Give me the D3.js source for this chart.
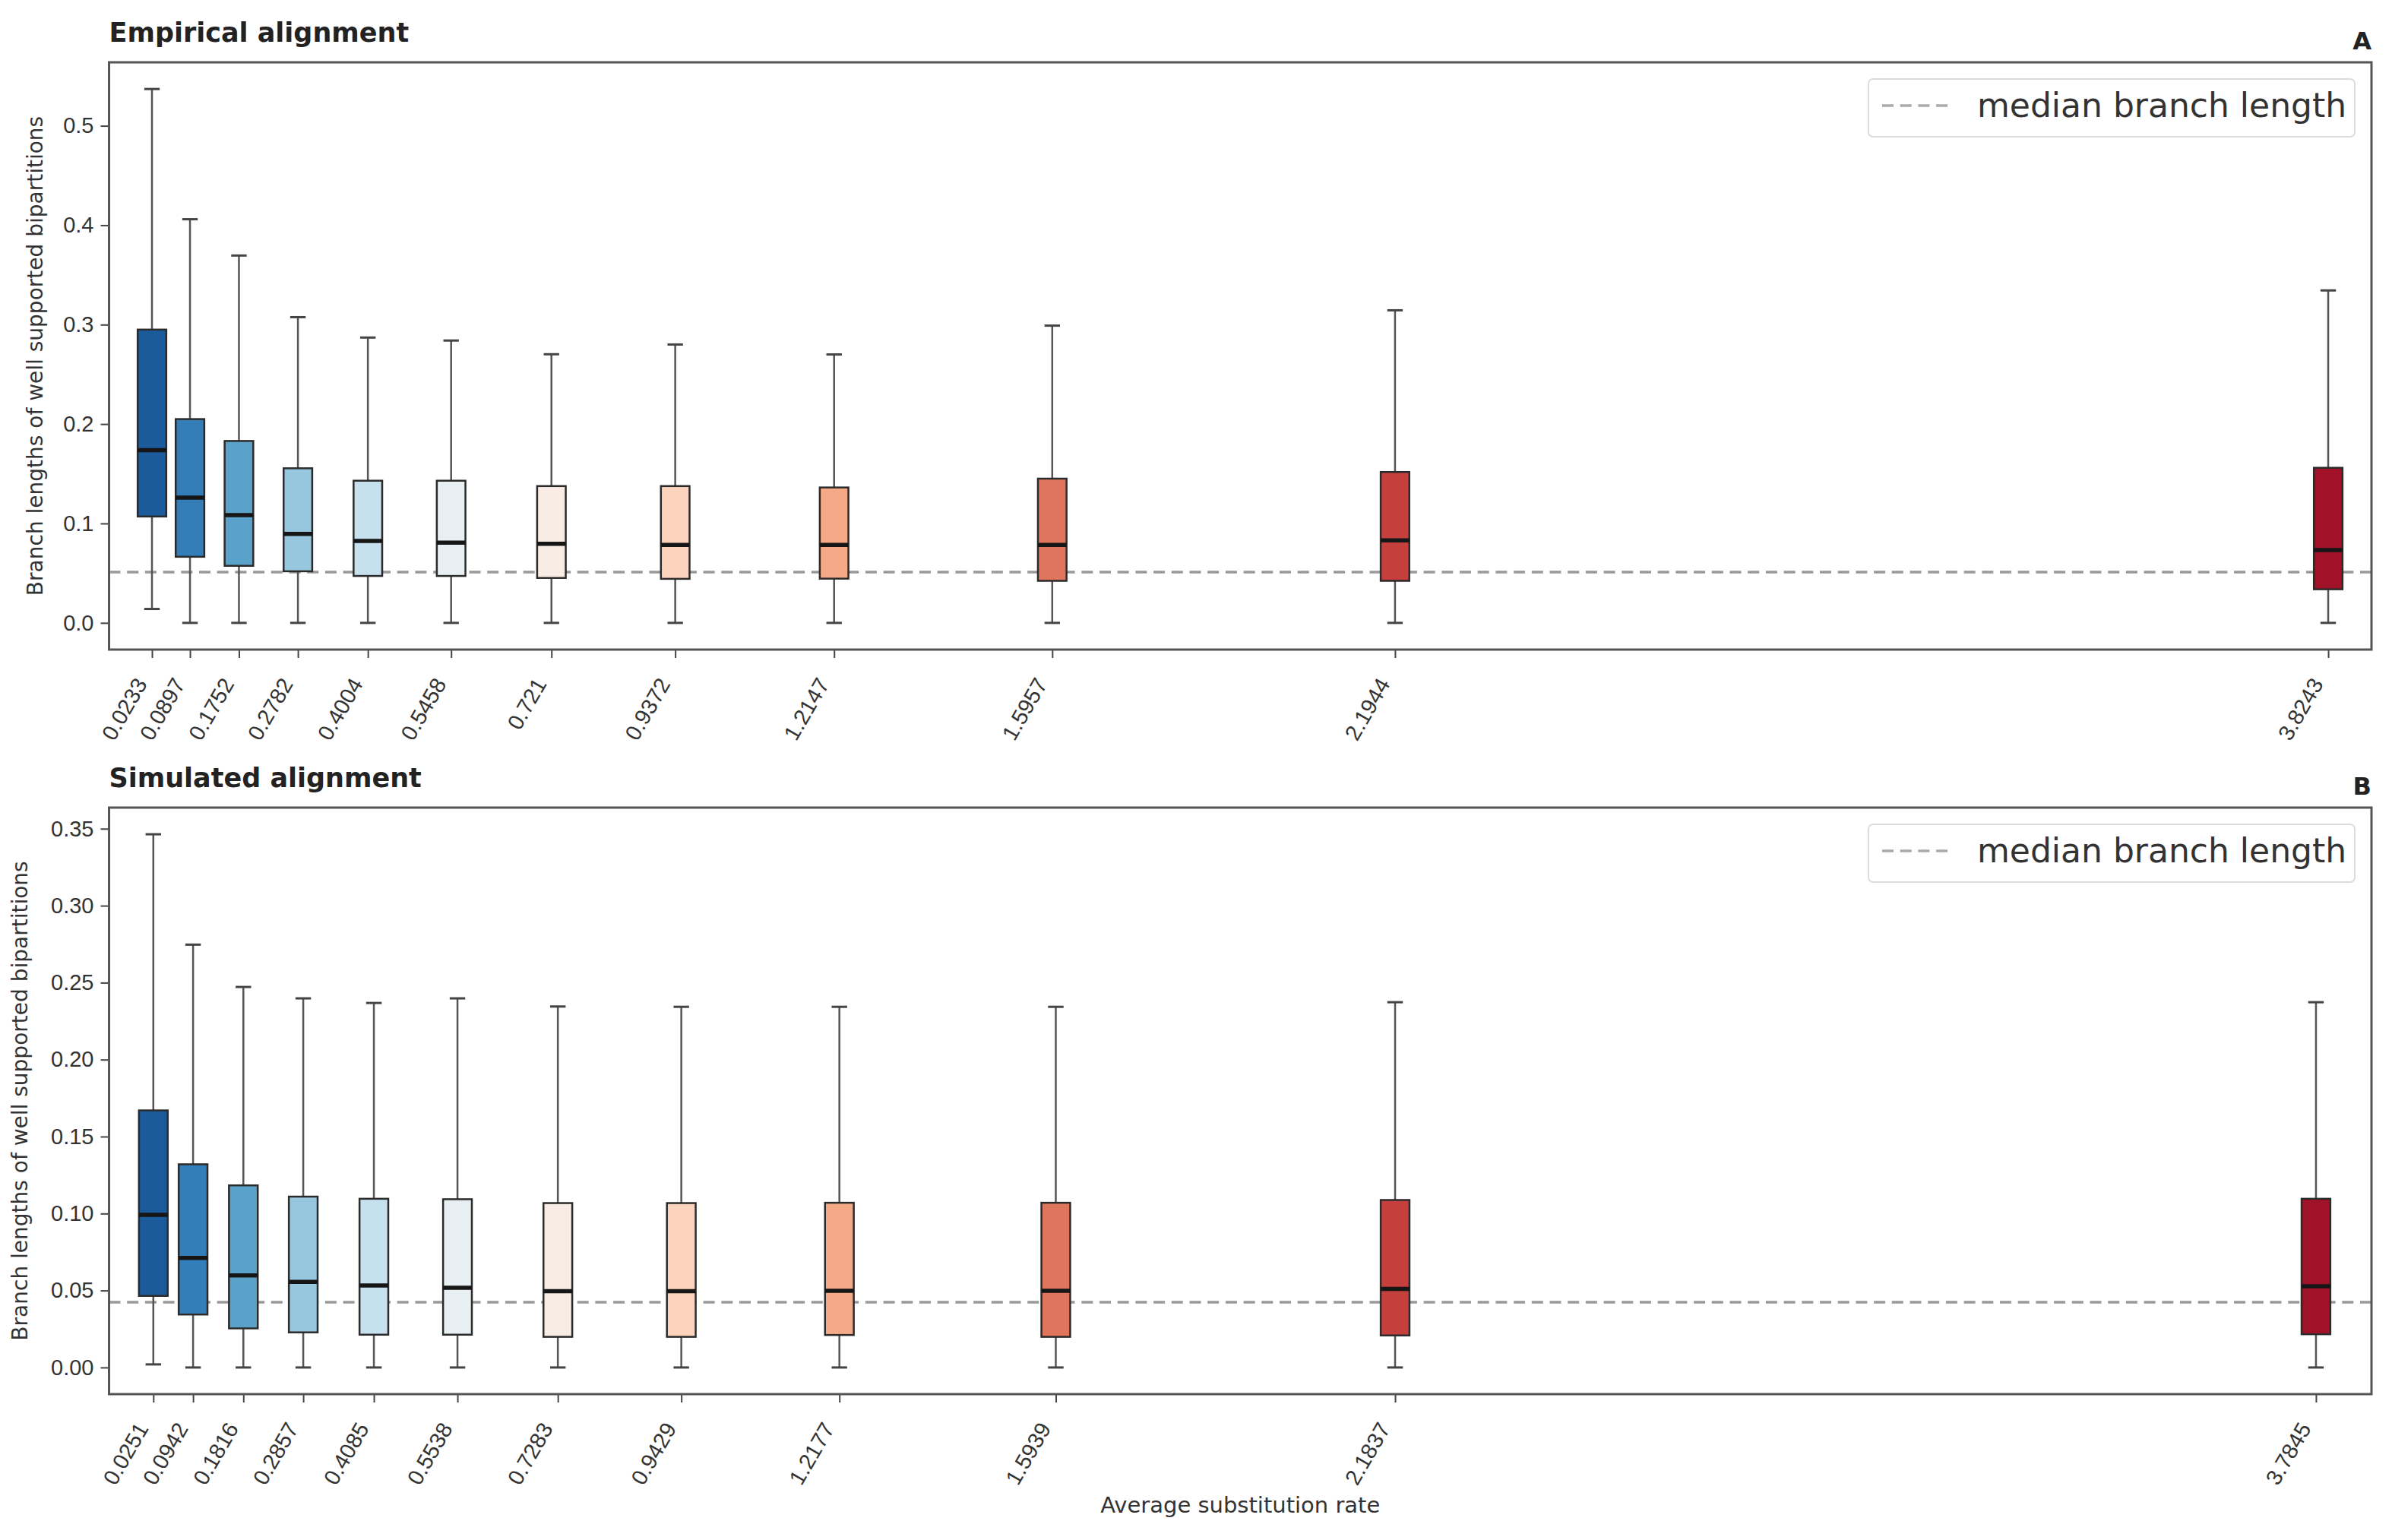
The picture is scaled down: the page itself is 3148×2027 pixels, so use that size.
<!DOCTYPE html>
<html>
<head>
<meta charset="utf-8">
<script src="https://cdn.jsdelivr.net/npm/d3@7"></script>
<style>
  body { margin: 0; background: #fff; }
  svg { display: block; font-family: "DejaVu Sans", sans-serif; }
  .tick text { fill: #333; }
</style>
</head>
<body>
<div id="chart"></div>
<script>
// ---- data ----
// panel A: empirical alignment
const empRates   = [0.0233, 0.0897, 0.1752, 0.2782, 0.4004, 0.5458, 0.721, 0.9372, 1.2147, 1.5957, 2.1944, 3.8243];
const empLabels  = ["0.0233", "0.0897", "0.1752", "0.2782", "0.4004", "0.5458", "0.721", "0.9372", "1.2147", "1.5957", "2.1944", "3.8243"];
const empLow     = [0.014, 0, 0, 0, 0, 0, 0, 0, 0, 0, 0, 0];
const empQ1      = [0.107, 0.0665, 0.0574, 0.0519, 0.0472, 0.0472, 0.0452, 0.0443, 0.0445, 0.0423, 0.0423, 0.0338];
const empMedian  = [0.1738, 0.126, 0.1085, 0.0895, 0.0825, 0.0808, 0.0796, 0.0784, 0.0784, 0.0784, 0.083, 0.0733];
const empQ3      = [0.295, 0.205, 0.183, 0.1555, 0.143, 0.143, 0.1376, 0.1376, 0.1362, 0.1451, 0.1518, 0.156];
const empHigh    = [0.537, 0.406, 0.3695, 0.3075, 0.287, 0.284, 0.2702, 0.2800, 0.2700, 0.299, 0.3144, 0.3344];
const empMedianBranch = 0.051;
const empYTicks  = [0.0, 0.1, 0.2, 0.3, 0.4, 0.5];

// panel B: simulated alignment
const simRates   = [0.0251, 0.0942, 0.1816, 0.2857, 0.4085, 0.5538, 0.7283, 0.9429, 1.2177, 1.5939, 2.1837, 3.7845];
const simLabels  = ["0.0251", "0.0942", "0.1816", "0.2857", "0.4085", "0.5538", "0.7283", "0.9429", "1.2177", "1.5939", "2.1837", "3.7845"];
const simLow     = [0.002, 0, 0, 0, 0, 0, 0, 0, 0, 0, 0, 0];
const simQ1      = [0.0465, 0.0344, 0.0254, 0.0228, 0.0213, 0.0213, 0.0199, 0.0199, 0.0211, 0.0199, 0.0208, 0.0216];
const simMedian  = [0.0992, 0.0711, 0.0598, 0.0556, 0.0532, 0.0518, 0.0495, 0.0495, 0.0498, 0.0498, 0.051, 0.0528];
const simQ3      = [0.167, 0.132, 0.1183, 0.111, 0.1096, 0.1093, 0.1068, 0.1068, 0.107, 0.107, 0.1088, 0.1096];
const simHigh    = [0.3464, 0.2747, 0.2472, 0.2398, 0.2368, 0.2398, 0.2345, 0.2343, 0.2343, 0.2343, 0.2373, 0.2373];
const simMedianBranch = 0.0424;
const simYTicks  = [0.00, 0.05, 0.10, 0.15, 0.20, 0.25, 0.30, 0.35];

// RdBu_r, 12 steps (seaborn palette)
const boxColors = ["#1b5a9b", "#337eb8", "#5ba2cb", "#97c7df", "#c7e0ed", "#e8f0f4",
                   "#f9ece5", "#fcd3bc", "#f5a987", "#df755d", "#c53f3d", "#a11228"];

const W = 3148, H = 2027;
const left = 143.5, right = 3121;

const svg = d3.select("#chart").append("svg")
    .attr("width", W)
    .attr("height", H);

function panel(cfg) {
    const rows = cfg.rates.map((r, i) => ({
        rate: r, low: cfg.low[i], q1: cfg.q1[i], med: cfg.median[i], q3: cfg.q3[i], high: cfg.high[i], color: boxColors[i]
    }));

    // matplotlib style 5% margin on y
    const yMin = d3.min(cfg.low), yMax = d3.max(cfg.high);
    const yPad = (yMax - yMin) * 0.05;
    const y = d3.scaleLinear().domain([yMin - yPad, yMax + yPad]).range([cfg.bottom, cfg.top]);
    const ext = d3.extent(cfg.rates);
    const x = d3.scaleLinear().domain([ext[0] - cfg.padL, ext[1] + cfg.padR]).range([left, right]);

    const g = svg.append("g");
    const boxW = 0.05, capW = 0.0135;

    // median branch length line (behind the boxes)
    g.append("line")
        .attr("x1", left).attr("x2", right)
        .attr("y1", y(cfg.medianBranch)).attr("y2", y(cfg.medianBranch))
        .attr("stroke", "#999").attr("stroke-width", 3.5)
        .attr("stroke-dasharray", "15,8.7");

    const b = g.selectAll(".box").data(rows).join("g").attr("class", "box");

    // whiskers
    b.append("line")
        .attr("x1", d => x(d.rate)).attr("x2", d => x(d.rate))
        .attr("y1", d => y(d.q3)).attr("y2", d => y(d.high))
        .attr("stroke", "#555").attr("stroke-width", 2.5);
    b.append("line")
        .attr("x1", d => x(d.rate)).attr("x2", d => x(d.rate))
        .attr("y1", d => y(d.q1)).attr("y2", d => y(d.low))
        .attr("stroke", "#555").attr("stroke-width", 2.5);
    // caps
    b.append("line")
        .attr("x1", d => x(d.rate - capW)).attr("x2", d => x(d.rate + capW))
        .attr("y1", d => y(d.high)).attr("y2", d => y(d.high))
        .attr("stroke", "#444").attr("stroke-width", 3);
    b.append("line")
        .attr("x1", d => x(d.rate - capW)).attr("x2", d => x(d.rate + capW))
        .attr("y1", d => y(d.low)).attr("y2", d => y(d.low))
        .attr("stroke", "#444").attr("stroke-width", 3);
    // boxes
    b.append("rect")
        .attr("x", d => x(d.rate - boxW / 2))
        .attr("width", d => x(d.rate + boxW / 2) - x(d.rate - boxW / 2))
        .attr("y", d => y(d.q3))
        .attr("height", d => y(d.q1) - y(d.q3))
        .attr("fill", d => d.color)
        .attr("stroke", "#2b2b2b").attr("stroke-width", 2.5);
    // medians
    b.append("line")
        .attr("x1", d => x(d.rate - boxW / 2)).attr("x2", d => x(d.rate + boxW / 2))
        .attr("y1", d => y(d.med)).attr("y2", d => y(d.med))
        .attr("stroke", "#161616").attr("stroke-width", 5.5);

    // y axis
    const yAxis = g.append("g")
        .attr("transform", `translate(${left},0)`)
        .call(d3.axisLeft(y).tickValues(cfg.yTicks).tickFormat(d3.format(cfg.yFmt)).tickSize(11).tickPadding(9));
    yAxis.select(".domain").remove();
    yAxis.selectAll("line").attr("stroke", "#444").attr("stroke-width", 2);
    yAxis.selectAll("text").attr("font-size", 29).attr("fill", "#333");

    // x axis, rotated labels
    const xAxis = g.append("g")
        .attr("transform", `translate(0,${cfg.bottom})`)
        .call(d3.axisBottom(x).tickValues(cfg.rates).tickFormat((d, i) => cfg.labels[i]).tickSize(11));
    xAxis.select(".domain").remove();
    xAxis.selectAll("line").attr("stroke", "#444").attr("stroke-width", 2);
    xAxis.selectAll("text")
        .attr("font-size", 29).attr("fill", "#333")
        .attr("text-anchor", "end")
        .attr("x", 0).attr("y", 0).attr("dy", null)
        .attr("transform", "translate(-6,45) rotate(-60)");

    // frame
    g.append("rect")
        .attr("x", left).attr("y", cfg.top)
        .attr("width", right - left).attr("height", cfg.bottom - cfg.top)
        .attr("fill", "none").attr("stroke", "#555").attr("stroke-width", 3);

    // y label
    g.append("text")
        .attr("transform", `translate(${cfg.yLabelX},${(cfg.top + cfg.bottom) / 2}) rotate(-90)`)
        .attr("text-anchor", "middle")
        .attr("font-size", 28).attr("fill", "#333")
        .text("Branch lengths of well supported bipartitions");

    // title and panel letter
    g.append("text")
        .attr("x", left).attr("y", cfg.top - 27)
        .attr("font-size", 35).attr("font-weight", "bold").attr("fill", "#222")
        .text(cfg.title);
    g.append("text")
        .attr("x", right).attr("y", cfg.top - 17)
        .attr("text-anchor", "end")
        .attr("font-size", 32).attr("font-weight", "bold").attr("fill", "#222")
        .text(cfg.letter);

    // legend
    const lw = 640, lh = 76;
    const lx = right - 22 - lw, ly = cfg.top + 22;
    const leg = g.append("g");
    leg.append("rect")
        .attr("x", lx).attr("y", ly).attr("width", lw).attr("height", lh).attr("rx", 6)
        .attr("fill", "#fff").attr("fill-opacity", 0.85)
        .attr("stroke", "#dcdcdc").attr("stroke-width", 2);
    leg.append("line")
        .attr("x1", lx + 18).attr("x2", lx + 104)
        .attr("y1", ly + 35).attr("y2", ly + 35)
        .attr("stroke", "#aaa").attr("stroke-width", 3.5)
        .attr("stroke-dasharray", "15,8.7");
    leg.append("text")
        .attr("x", lx + 143).attr("y", ly + 50)
        .attr("font-size", 44).attr("fill", "#333")
        .text("median branch length");
}

panel({
    title: "Empirical alignment", letter: "A",
    rates: empRates, labels: empLabels, low: empLow, q1: empQ1, median: empMedian, q3: empQ3, high: empHigh,
    medianBranch: empMedianBranch, yTicks: empYTicks, yFmt: ".1f",
    top: 82, bottom: 855, padL: 0.075, padR: 0.0756, yLabelX: 56
});

panel({
    title: "Simulated alignment", letter: "B",
    rates: simRates, labels: simLabels, low: simLow, q1: simQ1, median: simMedian, q3: simQ3, high: simHigh,
    medianBranch: simMedianBranch, yTicks: simYTicks, yFmt: ".2f",
    top: 1063, bottom: 1835, padL: 0.077, padR: 0.0965, yLabelX: 36
});

// shared x label
svg.append("text")
    .attr("x", (left + right) / 2).attr("y", 1991)
    .attr("text-anchor", "middle")
    .attr("font-size", 29).attr("fill", "#333")
    .text("Average substitution rate");
</script>
</body>
</html>
